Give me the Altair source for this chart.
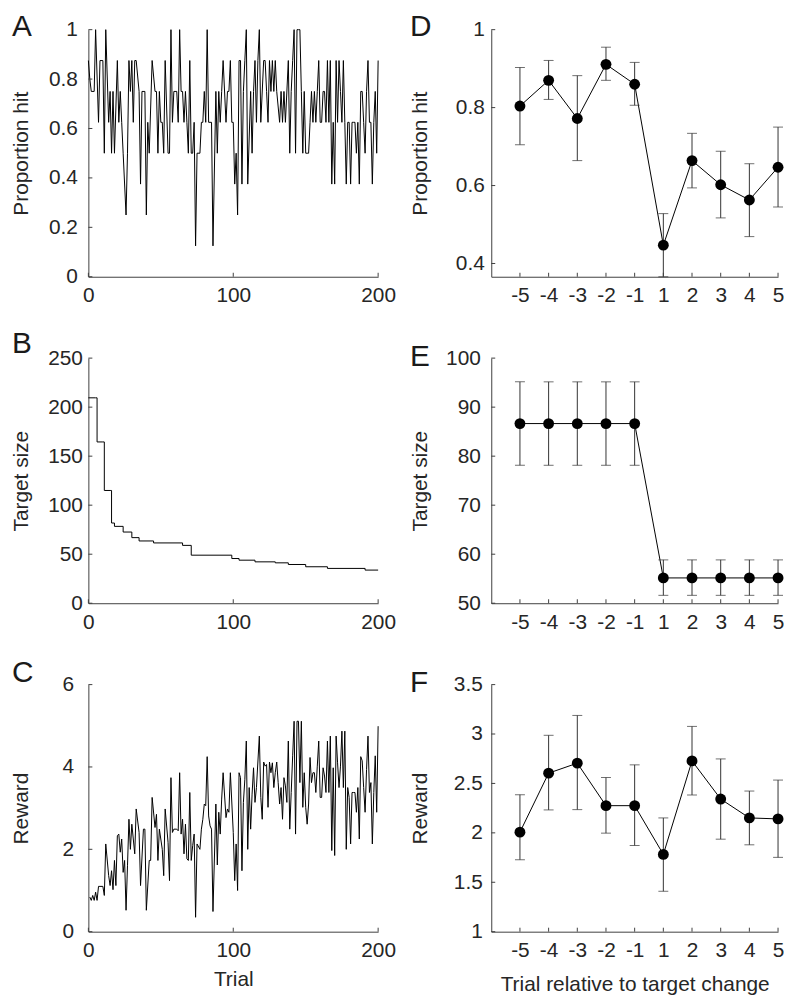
import altair as alt
import pandas as pd

FONT = "Liberation Sans"
TXT = "#262626"
AX = "#404040"
TICK = 4
NUM_LABEL = "'' + datum.value"

# ---------------- Panel A : proportion hit per trial ----------------
hit_trial = [0, 1, 2, 4, 5, 7, 8, 10, 11, 12, 14, 15, 16, 17, 18, 20, 21, 22, 23, 24, 26, 27, 28, 29, 30,
             31, 32, 33, 35, 36, 37, 39, 40, 41, 42, 44, 46, 47, 48, 49, 50, 51, 52, 53, 55, 56, 57, 58,
             59, 61, 62, 63, 64, 65, 66,
             67, 68, 69, 70, 71, 72, 73, 74, 75, 77, 78, 79, 80, 81, 82, 83, 85, 86, 88, 89, 90, 91, 92,
             93, 95, 96, 97, 98, 99, 100, 101, 102, 103, 104, 105, 106, 107, 108, 109, 110, 112, 113, 114,
             115, 116, 117, 118, 119, 121, 122, 123, 124, 125, 126, 127, 128, 129, 130, 132, 133,
             134, 135, 136, 138, 139, 140, 141, 142, 143, 144, 145, 146, 147, 148, 149, 150, 151, 152, 153,
             154, 155, 156, 157, 158, 159, 160, 161, 162, 163, 164, 165, 166, 167, 168, 169, 170, 171, 172,
             173, 174, 175, 176, 177, 178, 179, 180, 181, 182, 183, 184, 185, 186, 187, 188, 189, 190, 191,
             192, 193, 194, 195, 196, 197, 198, 199, 200]
hit_prop = [0.875, 0.8, 0.75, 0.75, 1.0, 0.625, 0.875, 0.875, 0.5, 1.0, 0.625, 0.75, 0.5, 0.75, 0.5, 0.875,
            0.625, 0.75, 0.625, 0.5, 0.25, 0.5, 0.875, 0.75, 0.875, 0.625, 0.875, 0.875, 0.75, 0.375, 0.75,
            0.75, 0.25, 0.625, 0.5, 0.875, 0.75, 0.75, 0.5, 0.75, 0.625, 0.625, 0.5, 0.875, 0.5, 0.5, 1.0,
            0.625, 0.75, 0.75, 0.625, 1.0, 0.75, 0.75, 0.625,
            0.75, 0.625, 0.5, 0.875, 0.5, 0.5, 0.625, 0.125, 0.5, 0.5, 0.625, 0.625, 0.75, 0.625, 1.0, 0.625,
            0.625, 0.125, 0.75, 0.5, 0.75, 0.625, 0.75, 0.875, 0.625, 0.75, 0.75, 0.875, 0.625, 0.625, 0.375,
            0.5, 0.25, 0.875, 0.875, 0.375, 0.75, 0.875, 1.0, 0.375, 0.75, 0.5, 0.75, 0.875, 0.625, 0.875,
            1.0, 0.625, 0.875, 0.875, 0.75, 0.625, 0.875, 0.75, 0.875, 0.75, 0.875, 0.75, 0.625, 0.75,
            0.625, 0.75, 0.625, 0.875, 0.5, 0.75, 0.875, 1.0, 0.5, 1.0, 1.0, 1.0, 0.75, 0.5, 0.75, 0.5, 0.5,
            0.5, 0.625, 0.75, 0.625, 0.75, 0.625, 0.75, 0.875, 0.625, 0.625, 0.75, 0.75, 0.625, 0.875, 0.625,
            0.875, 0.375, 0.625, 0.375, 0.875, 0.625, 0.875, 0.75, 0.625, 0.875, 0.625, 0.375, 0.625, 0.625,
            0.375, 0.625, 0.625, 0.625, 0.5, 0.625, 0.375, 0.75, 0.75, 0.625, 0.5, 0.75, 0.875, 0.625, 0.625,
            0.375, 0.625, 0.75, 0.5, 0.875]

# ---------------- Panel B : target size (value changes) ----------------
size_trial = [0, 5, 6, 10, 11, 15, 16, 18, 24, 30, 35, 45, 65, 71, 99, 104, 115, 129, 138, 150, 165, 191, 200]
size_val = [209.5, 209.5, 164.5, 164.5, 115, 115, 81.8, 78.4, 72.6, 66.9, 63.5, 61.5, 59, 49, 45.6, 43.9,
            42.2, 41.2, 39.5, 37.2, 35.5, 33.8, 33.8]

# ---------------- Panel C : reward per trial ----------------
rew_trial = [1, 2, 3, 4, 5, 6, 7, 8, 10, 11, 12, 14, 15, 16, 17, 18, 19, 20, 21, 22, 23, 24, 25, 26, 27,
             28, 29, 30, 32, 33, 35, 36, 38, 39, 40, 42, 43, 44, 46, 47, 48, 49, 51, 52, 53, 55, 56, 57,
             58, 59, 61, 62, 63, 64, 65, 66,
             67, 68, 69, 70, 71, 72, 73, 74, 75, 77, 78, 79, 80, 81, 82, 83, 84, 85, 86, 88, 89, 90, 91,
             92, 93, 95, 96, 97, 98, 100, 101, 102, 103, 104, 105, 106, 107, 108, 109, 110, 111, 112, 113,
             114, 115, 116, 118, 119, 120, 121, 122, 123, 124, 125, 126, 127, 128, 129, 130, 131, 132, 133,
             134, 135, 136, 137, 138, 139, 140, 141, 142, 143, 144, 145, 146, 147, 148, 149, 150, 151, 152,
             153, 154, 155, 156, 157, 158, 159, 160, 161, 162, 163, 164, 165, 166, 167, 168, 169, 170, 171,
             172, 173, 174, 175, 176, 177, 178, 179, 180, 181, 182, 183, 184, 185, 186, 187, 188, 189, 190,
             191, 192, 193, 194, 195, 196, 197, 198, 199, 200]
rew_val = [0.84, 0.76, 0.88, 0.76, 0.96, 0.76, 1.1, 1.1, 1.1, 0.88, 2.13, 1.36, 1.12, 1.48, 1.02, 1.73, 1.12,
           2.33, 2.37, 1.93, 2.25, 1.44, 1.73, 0.52, 1.6, 2.73, 2.0, 2.61, 1.89, 2.98, 2.41, 1.12, 2.49,
           2.49, 0.52, 1.73, 1.73, 3.26, 2.53, 2.85, 1.73, 2.49, 2.0, 1.36, 2.98, 2.17, 1.24, 3.74, 2.41,
           2.49, 2.49, 2.45, 3.86, 2.37, 2.73, 1.89,
           2.61, 1.77, 1.73, 3.38, 1.73, 2.09, 2.37, 0.35, 2.13, 2.0, 2.49, 2.73, 3.1, 3.06, 4.25, 2.81,
           2.57, 2.49, 0.49, 3.1, 1.62, 2.9, 2.37, 3.22, 3.86, 2.77, 2.98, 2.9, 3.86, 2.41, 1.24, 2.13, 1.0,
           3.86, 3.74, 1.48, 3.14, 3.7, 4.63, 2.0, 3.5, 2.49, 3.34, 3.98, 3.14, 3.5, 4.75, 3.26, 2.73, 4.12,
           4.02, 4.06, 3.02, 4.12, 3.86, 4.1, 3.5, 3.86, 4.12, 3.62, 3.1, 3.5,
           2.73, 3.74, 3.54, 3.14, 4.63, 2.49, 3.38, 4.27, 5.11, 2.37, 5.11, 5.11, 3.62, 5.11, 3.02, 3.86,
           3.02, 2.61, 3.1, 4.23, 3.62, 3.86, 3.86, 3.38, 4.02, 4.63, 3.26, 3.26, 3.98, 3.78, 3.38, 4.63,
           3.38, 4.75, 1.97, 3.98, 1.85, 4.75, 4.1, 3.5, 4.02, 4.87, 3.5, 4.87, 2.0, 3.5, 3.26, 2.13, 3.38,
           3.38, 3.38, 2.9, 3.5, 2.25, 4.25, 4.15, 3.5, 2.9, 3.94, 4.75, 3.38, 3.62, 2.13, 3.38, 4.27, 2.9,
           4.99]

# ---------------- Panels D-F : means around target change ----------------
rel_trial = [-5, -4, -3, -2, -1, 1, 2, 3, 4, 5]
hit_mean = [0.804, 0.870, 0.772, 0.911, 0.860, 0.447, 0.664, 0.602, 0.563, 0.647]
hit_lo = [0.705, 0.821, 0.664, 0.870, 0.806, 0.366, 0.594, 0.517, 0.469, 0.545]
hit_hi = [0.903, 0.921, 0.882, 0.955, 0.916, 0.528, 0.734, 0.688, 0.656, 0.750]
size_mean = [86.65, 86.65, 86.65, 86.65, 86.65, 55.16, 55.16, 55.16, 55.16, 55.16]
size_lo = [78.14, 78.14, 78.14, 78.14, 78.14, 51.61, 51.61, 51.61, 51.61, 51.61]
size_hi = [95.16, 95.16, 95.16, 95.16, 95.16, 58.84, 58.84, 58.84, 58.84, 58.84]
rew_mean = [2.007, 2.604, 2.705, 2.275, 2.275, 1.782, 2.728, 2.342, 2.151, 2.141]
rew_lo = [1.728, 2.232, 2.235, 1.997, 1.872, 1.409, 2.383, 1.936, 1.879, 1.752]
rew_hi = [2.386, 2.987, 3.188, 2.560, 2.688, 2.151, 3.077, 2.748, 2.423, 2.534]

LW = 292   # left plot width
RW = 289   # right plot width
H1, H2, H3 = 249, 247, 249


def letter_layer(letter, lx, ly):
    return alt.Chart(pd.DataFrame({"t": [letter]})).mark_text(
        font=FONT, fontSize=30, color="#1a1a1a", align="left", baseline="alphabetic"
    ).encode(text="t:N", x=alt.value(lx), y=alt.value(ly))


def tick_layers(xscale, yscale, xaxis, yaxis, xticks, yticks, height):
    ytk = alt.Chart(pd.DataFrame({"v": yticks})).mark_rule(color=AX, strokeWidth=1).encode(
        y=alt.Y("v:Q", scale=yscale, axis=yaxis), x=alt.value(0), x2=alt.value(TICK))
    xtk = alt.Chart(pd.DataFrame({"v": xticks})).mark_rule(color=AX, strokeWidth=1).encode(
        x=alt.X("v:Q", scale=xscale, axis=xaxis), y=alt.value(height), y2=alt.value(height - TICK))
    return [ytk, xtk]


def left_panel(trials, values, ydom, yticks, ytitle, height, letter, ly, lpad, xtitle=None,
               interp="linear"):
    df = pd.DataFrame({"trial": trials, "v": values})
    xscale = alt.Scale(domain=[0, 200], nice=False, zero=False)
    yscale = alt.Scale(domain=ydom, nice=False, zero=False)
    xticks = [0, 100, 200]
    xaxis = alt.Axis(values=xticks, labelPadding=8, ticks=False, grid=False, labelFlush=False,
                     labelOverlap=False, title=xtitle if xtitle else None, labelExpr=NUM_LABEL,
                     minExtent=37, maxExtent=37, titlePadding=0)
    yaxis = alt.Axis(values=yticks, title=ytitle, labelPadding=lpad, ticks=False, grid=False,
                     labelOverlap=False, labelExpr=NUM_LABEL, minExtent=57, maxExtent=57, titlePadding=0)
    line = alt.Chart(df).mark_line(color="black", strokeWidth=1, interpolate=interp).encode(
        x=alt.X("trial:Q", scale=xscale, axis=xaxis),
        y=alt.Y("v:Q", scale=yscale, axis=yaxis))
    layers = [line] + tick_layers(xscale, yscale, xaxis, yaxis, xticks, yticks, height) + \
        [letter_layer(letter, -77, ly)]
    return alt.layer(*layers).properties(width=LW, height=height)


def right_panel(means, los, his, ydom, yticks, ytitle, height, letter, ly, lpad, xtitle=None):
    pos = list(range(1, len(rel_trial) + 1))
    df = pd.DataFrame({"pos": pos, "rel": rel_trial, "m": means, "lo": los, "hi": his})
    xscale = alt.Scale(domain=[0, len(rel_trial)], nice=False, zero=False)
    yscale = alt.Scale(domain=ydom, nice=False, zero=False)
    label_expr = "[" + ",".join(str(r) for r in rel_trial) + "][datum.value - 1]"
    xaxis = alt.Axis(values=pos, labelExpr=label_expr, labelPadding=8, ticks=False, grid=False,
                     labelFlush=False, labelOverlap=False, title=xtitle if xtitle else None,
                     minExtent=42, maxExtent=42, titlePadding=0)
    yaxis = alt.Axis(values=yticks, title=ytitle, labelPadding=lpad, ticks=False, grid=False,
                     labelOverlap=False, labelExpr=NUM_LABEL, minExtent=61, maxExtent=61, titlePadding=0)
    X = alt.X("pos:Q", scale=xscale, axis=xaxis)
    err = alt.Chart(df).mark_rule(color="#333333", strokeWidth=1).encode(
        x=X, y=alt.Y("lo:Q", scale=yscale, axis=yaxis), y2="hi:Q")
    cap_lo = alt.Chart(df).mark_tick(orient="horizontal", size=10, thickness=1, color="#333333").encode(
        x=X, y=alt.Y("lo:Q", scale=yscale, axis=yaxis))
    cap_hi = alt.Chart(df).mark_tick(orient="horizontal", size=10, thickness=1, color="#333333").encode(
        x=X, y=alt.Y("hi:Q", scale=yscale, axis=yaxis))
    line = alt.Chart(df).mark_line(color="black", strokeWidth=1).encode(
        x=X, y=alt.Y("m:Q", scale=yscale, axis=yaxis))
    pts = alt.Chart(df).mark_circle(size=120, color="black", opacity=1).encode(
        x=X, y=alt.Y("m:Q", scale=yscale, axis=yaxis))
    layers = [line, err, cap_lo, cap_hi, pts] + tick_layers(xscale, yscale, xaxis, yaxis, pos, yticks, height) + \
        [letter_layer(letter, -82, ly)]
    return alt.layer(*layers).properties(width=RW, height=height)


pA = left_panel(hit_trial, hit_prop, [0, 1], [0, 0.2, 0.4, 0.6, 0.8, 1], "Proportion hit", H1, "A", 6, 11)
pB = left_panel(size_trial, size_val, [0, 250], [0, 50, 100, 150, 200, 250], "Target size", H2, "B", -5, 6,
                interp="step-after")
pC = left_panel(rew_trial, rew_val, [0, 6], [0, 2, 4, 6], "Reward", H3, "C", -3, 15, xtitle="Trial")

pD = right_panel(hit_mean, hit_lo, hit_hi, [0.366, 1], [0.4, 0.6, 0.8, 1], "Proportion hit", H1, "D", 6, 7)
pE = right_panel(size_mean, size_lo, size_hi, [50, 100], [50, 60, 70, 80, 90, 100], "Target size", H2, "E", 8, 11)
pF = right_panel(rew_mean, rew_lo, rew_hi, [1, 3.5], [1, 1.5, 2, 2.5, 3, 3.5], "Reward", H3, "F", 7, 9,
                 xtitle="Trial relative to target change")

chart = alt.concat(
    pA, pD, pB, pE, pC, pF, columns=2,
    spacing={"row": 82, "column": 114}, bounds="flush", align="each", background="white",
    padding={"left": 3, "top": 0, "right": 0, "bottom": 0}
).configure(font=FONT).configure_view(stroke=None).configure_axis(
    labelFont=FONT, labelFontSize=21, labelColor=TXT,
    titleFont=FONT, titleFontSize=21, titleFontWeight="normal", titleColor=TXT,
    domainColor=AX, domainWidth=1
)

chart.save("out.html", embed_options={"renderer": "svg", "actions": False})
